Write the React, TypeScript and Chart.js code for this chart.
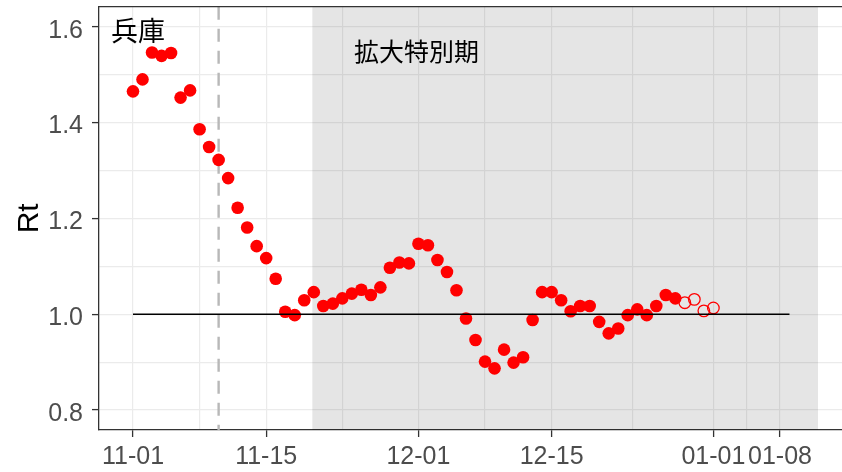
import React, { useEffect, useRef } from "react";
import { Chart, registerables } from "chart.js";

Chart.register(...registerables);

// ---- data ----
const confirmedDates = [
  "11-01", "11-02", "11-03", "11-04", "11-05", "11-06", "11-07", "11-08", "11-09", "11-10",
  "11-11", "11-12", "11-13", "11-14", "11-15", "11-16", "11-17", "11-18", "11-19", "11-20",
  "11-21", "11-22", "11-23", "11-24", "11-25", "11-26", "11-27", "11-28", "11-29", "11-30",
  "12-01", "12-02", "12-03", "12-04", "12-05", "12-06", "12-07", "12-08", "12-09", "12-10",
  "12-11", "12-12", "12-13", "12-14", "12-15", "12-16", "12-17", "12-18", "12-19", "12-20",
  "12-21", "12-22", "12-23", "12-24", "12-25", "12-26", "12-27", "12-28",
];
const confirmedRt = [
  1.465, 1.49, 1.546, 1.539, 1.545, 1.452, 1.467, 1.386, 1.349, 1.322,
  1.284, 1.222, 1.181, 1.142, 1.117, 1.074, 1.005, 0.998, 1.029, 1.046,
  1.017, 1.022, 1.033, 1.043, 1.051, 1.04, 1.056, 1.097, 1.108, 1.106,
  1.147, 1.144, 1.113, 1.088, 1.05, 0.991, 0.946, 0.901, 0.887, 0.926,
  0.899, 0.91, 0.988, 1.046, 1.046, 1.029, 1.006, 1.017, 1.017, 0.984,
  0.96, 0.97, 0.998, 1.01, 0.998, 1.017, 1.04, 1.033,
];
const provisionalDates = ["12-29", "12-30", "12-31", "01-01"];
const provisionalRt = [1.024, 1.031, 1.007, 1.013];

const xTickDates = ["11-01", "11-15", "12-01", "12-15", "01-01", "01-08"];
const yTickValues = [0.8, 1.0, 1.2, 1.4, 1.6];
const yMinorValues = [0.9, 1.1, 1.3, 1.5];

const referenceLine = { from: "11-01", to: "01-09", value: 1.0 };
const dashedDate = "11-10";
const shadeFromDay = 18.85; // days after 11-01 (about 11-20)
const shadeToDay = 72; // 01-12
const regionLabel = "兵庫";
const periodLabel = "拡大特別期";
const periodLabelDate = "12-01";
const periodLabelY = 1.548;
const yTitle = "Rt";

// ---- helpers ----
const BASE = Date.UTC(2020, 10, 1);
function dayOf(md: string): number {
  const [m, d] = md.split("-").map(Number);
  const year = m >= 10 ? 2020 : 2021;
  return (Date.UTC(year, m - 1, d) - BASE) / 86400000;
}

const majorDays = xTickDates.map(dayOf);
const minorDays: number[] = [];
for (let i = 0; i < majorDays.length - 1; i++) minorDays.push((majorDays[i] + majorDays[i + 1]) / 2);
const xLabelByDay: Record<string, string> = {};
xTickDates.forEach((d) => (xLabelByDay[String(dayOf(d))] = d));

const isMajorX = (v: number) => majorDays.some((m) => Math.abs(m - v) < 1e-6);
const isMajorY = (v: number) => yTickValues.some((m) => Math.abs(m - v) < 1e-6);

const GRID = "#ebebeb";
const AXIS = "#333333";
const TICK_TEXT = "#4d4d4d";

const overlayPlugin = {
  id: "overlay",
  beforeDatasetsDraw(chart: any) {
    const { ctx, chartArea: a, scales } = chart;
    const x = scales.x;
    ctx.save();
    ctx.beginPath();
    ctx.rect(a.left, a.top, a.right - a.left, a.bottom - a.top);
    ctx.clip();
    const x0 = x.getPixelForValue(shadeFromDay);
    const x1 = x.getPixelForValue(shadeToDay);
    ctx.fillStyle = "rgba(0,0,0,0.1)";
    ctx.fillRect(x0, a.top, x1 - x0, a.bottom - a.top);
    const vx = x.getPixelForValue(dayOf(dashedDate));
    ctx.strokeStyle = "#b8b8b8";
    ctx.lineWidth = 2.4;
    ctx.setLineDash([13, 9]);
    ctx.beginPath();
    ctx.moveTo(vx, a.top);
    ctx.lineTo(vx, a.bottom);
    ctx.stroke();
    ctx.restore();
  },
  afterDraw(chart: any) {
    const { ctx, chartArea: a, scales } = chart;
    const x = scales.x;
    const y = scales.y;
    ctx.save();
    // top panel border
    ctx.strokeStyle = AXIS;
    ctx.lineWidth = 1.3;
    ctx.beginPath();
    ctx.moveTo(a.left, a.top);
    ctx.lineTo(chart.width, a.top);
    ctx.stroke();

    ctx.fillStyle = "#000";
    ctx.font = '27px "Noto Sans CJK JP"';
    ctx.textAlign = "left";
    ctx.textBaseline = "middle";
    ctx.fillText(regionLabel, a.left + 12, a.top + 24);

    ctx.font = '25px "Noto Sans CJK JP"';
    ctx.textAlign = "center";
    ctx.fillText(periodLabel, x.getPixelForValue(dayOf(periodLabelDate)) - 2, y.getPixelForValue(periodLabelY));

    ctx.translate(29.5, (a.top + a.bottom) / 2);
    ctx.rotate(-Math.PI / 2);
    ctx.font = '30px "Liberation Sans"';
    ctx.textAlign = "center";
    ctx.textBaseline = "middle";
    ctx.fillText(yTitle, 0, 0);
    ctx.restore();
  },
};

export default function App() {
  const ref = useRef<HTMLCanvasElement | null>(null);

  useEffect(() => {
    if (!ref.current) return;
    const chart = new Chart(ref.current, {
      type: "scatter",
      data: {
        datasets: [
          {
            type: "line",
            data: [
              { x: dayOf(referenceLine.from), y: referenceLine.value },
              { x: dayOf(referenceLine.to), y: referenceLine.value },
            ],
            borderColor: "#000",
            borderWidth: 1.5,
            pointRadius: 0,
            showLine: true,
            fill: false,
          } as any,
          {
            data: confirmedDates.map((d, i) => ({ x: dayOf(d), y: confirmedRt[i] })),
            pointRadius: 6.3,
            pointBackgroundColor: "#ff0000",
            pointBorderColor: "#ff0000",
            pointBorderWidth: 0,
          },
          {
            data: provisionalDates.map((d, i) => ({ x: dayOf(d), y: provisionalRt[i] })),
            pointRadius: 5.8,
            pointBackgroundColor: "rgba(0,0,0,0)",
            pointBorderColor: "#ff0000",
            pointBorderWidth: 1.3,
          },
        ],
      },
      options: {
        animation: false,
        responsive: false,
        events: [],
        layout: { autoPadding: false, padding: { top: 6.7, left: 0, right: 0, bottom: 0 } },
        plugins: { legend: { display: false }, tooltip: { enabled: false } },
        scales: {
          x: {
            type: "linear",
            min: -3.573,
            max: 74.52,
            afterBuildTicks: (s: any) => {
              s.ticks = [...majorDays, ...minorDays].sort((p, q) => p - q).map((v) => ({ value: v }));
            },
            afterFit: (s: any) => {
              s.height = 42;
              s.paddingLeft = 0;
              s.paddingRight = 0;
            },
            ticks: {
              autoSkip: false,
              maxRotation: 0,
              padding: 5,
              color: TICK_TEXT,
              font: { family: "Liberation Sans", size: 25 },
              callback: (v: any) => xLabelByDay[String(v)] ?? "",
            },
            grid: {
              color: GRID,
              lineWidth: 1.2,
              tickLength: 7,
              tickColor: (c: any) => (c.tick && isMajorX(c.tick.value) ? AXIS : "rgba(0,0,0,0)"),
              tickWidth: 1.3,
            },
            border: { display: true, color: AXIS, width: 1.3 },
          },
          y: {
            type: "linear",
            min: 0.7583,
            max: 1.6417,
            afterBuildTicks: (s: any) => {
              s.ticks = [...yTickValues, ...yMinorValues].sort((p, q) => p - q).map((v) => ({ value: v }));
            },
            afterFit: (s: any) => {
              s.width = 99;
              s.paddingTop = 0;
              s.paddingBottom = 0;
            },
            ticks: {
              padding: 9,
              labelOffset: 4,
              color: TICK_TEXT,
              font: { family: "Liberation Sans", size: 25 },
              callback: (v: any) => (isMajorY(Number(v)) ? Number(v).toFixed(1) : ""),
            },
            grid: {
              color: GRID,
              lineWidth: 1.2,
              tickLength: 7,
              tickColor: (c: any) => (c.tick && isMajorY(c.tick.value) ? AXIS : "rgba(0,0,0,0)"),
              tickWidth: 1.3,
            },
            border: { display: true, color: AXIS, width: 1.3 },
          },
        },
      },
      plugins: [overlayPlugin],
    });
    return () => chart.destroy();
  }, []);

  return (
    <div style={{ position: "fixed", left: 0, top: 0, width: 842, height: 472, background: "#fff", overflow: "hidden" }}>
      <canvas ref={ref} width={842} height={472} style={{ display: "block", width: 842, height: 472 }} />
    </div>
  );
}
